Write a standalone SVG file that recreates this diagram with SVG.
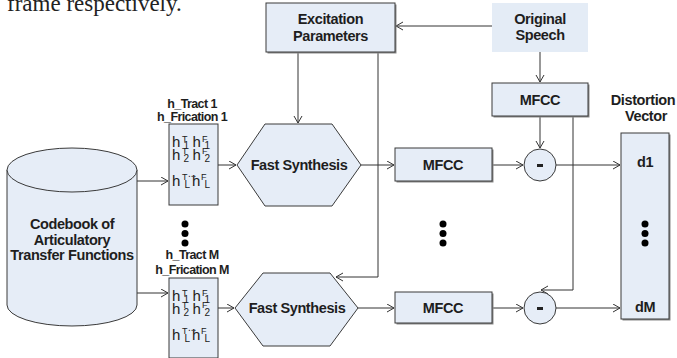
<svg xmlns="http://www.w3.org/2000/svg" width="677" height="358" viewBox="0 0 677 358">
<style>
.box{fill:#e6edf7;stroke:#3a3a3a;stroke-width:1}
.shd{fill:#8a8a8a}
.lbl{font-family:"Liberation Sans",Arial,sans-serif;font-weight:bold;font-size:14.5px;letter-spacing:-0.4px;fill:#1e1e1e;text-anchor:middle}
.sm{font-family:"Liberation Sans",Arial,sans-serif;font-weight:bold;font-size:12.5px;letter-spacing:-0.6px;fill:#1e1e1e;text-anchor:middle}
.h{font-family:"Liberation Sans",Arial,sans-serif;font-size:15px;fill:#222}
.sup{font-size:9px}
.sub{font-size:10px}
.ln{fill:none;stroke:#333;stroke-width:1;marker-end:url(#ah)}
.dot{fill:#000}
.cap{font-family:"Liberation Serif","Times New Roman",serif;font-size:23px;fill:#222}
</style>
<defs>
<marker id="ah" markerUnits="userSpaceOnUse" markerWidth="10" markerHeight="10" refX="8" refY="4.5" orient="auto">
<path d="M1,0.5 L8,4.5 L1,8.5" fill="none" stroke="#333" stroke-width="1"/>
</marker>
</defs>

<text class="cap" x="7" y="11">frame respectively.</text>

<g id="connectors">
<path class="ln" d="M492,26 H396"/>
<path class="ln" d="M298,52 V123"/>
<path class="ln" d="M378,52 V277 H336"/>
<path class="ln" d="M540,52 V82"/>
<path class="ln" d="M540,116 V148"/>
<path class="ln" d="M573,116 V290 H541"/>
<path class="ln" d="M137,181 H168"/>
<path class="ln" d="M137,293 H168"/>
<path class="ln" d="M218,165 H236"/>
<path class="ln" d="M218,308 H234"/>
<path class="ln" d="M361,165 H394"/>
<path class="ln" d="M358,308 H394"/>
<path class="ln" d="M492,165 H523"/>
<path class="ln" d="M492,308 H523"/>
<path class="ln" d="M556,165 H620"/>
<path class="ln" d="M556,308 H620"/>
</g>

<g id="excitation">
<rect class="shd" x="267.5" y="4.5" width="129" height="49"/>
<rect class="box" x="266" y="3" width="129" height="49"/>
<text class="lbl" x="330.5" y="24">Excitation</text>
<text class="lbl" x="330.5" y="41">Parameters</text>
</g>

<g id="original-speech">
<rect x="492" y="3" width="96" height="49" fill="#e4ecf6"/>
<text class="lbl" x="540" y="24">Original</text>
<text class="lbl" x="540" y="40">Speech</text>
</g>

<g id="mfcc-ref">
<rect class="shd" x="493.5" y="84.5" width="96" height="33"/>
<rect class="box" x="492" y="83" width="96" height="33"/>
<text class="lbl" x="540" y="104.5">MFCC</text>
</g>

<g id="distortion-label">
<text class="lbl" x="643" y="105">Distortion</text>
<text class="lbl" x="646" y="121">Vector</text>
</g>

<g id="codebook">
<path d="M7,170 V305 A65,21 0 0 0 137,305 V170 Z" fill="#e6edf7" stroke="#3a3a3a" stroke-width="1"/>
<ellipse cx="72" cy="170" rx="65" ry="22" fill="#e6edf7" stroke="#3a3a3a" stroke-width="1"/>
<text class="lbl" x="72" y="229">Codebook of</text>
<text class="lbl" x="72" y="244.5">Articulatory</text>
<text class="lbl" x="72" y="260">Transfer Functions</text>
</g>

<g id="hbox-1">
<text class="sm" x="192" y="108">h_Tract 1</text>
<text class="sm" x="192" y="121">h_Frication 1</text>
<rect class="box" x="169" y="124" width="49" height="81"/>
<text class="h" x="172" y="147">h<tspan class="sup" x="182" y="141.5">T</tspan><tspan class="sub" x="183.5" y="149">1</tspan><tspan x="192.5" y="147">h</tspan><tspan class="sup" x="202" y="141.5">F</tspan><tspan class="sub" x="204.5" y="149">1</tspan></text>
<text class="h" x="172" y="159.5">h<tspan class="sup" x="182" y="154">T</tspan><tspan class="sub" x="183.5" y="161.5">2</tspan><tspan x="192.5" y="159.5">h</tspan><tspan class="sup" x="202" y="154">F</tspan><tspan class="sub" x="204.5" y="161.5">2</tspan></text>
<text class="h" x="172" y="186"><tspan class="sub" x="188" y="177">...</tspan><tspan x="172" y="186">h</tspan><tspan class="sup" x="182" y="180">T</tspan><tspan class="sub" x="184.5" y="187.5">L</tspan><tspan x="192" y="186">h</tspan><tspan class="sup" x="201" y="180">F</tspan><tspan class="sub" x="204.5" y="187.5">L</tspan></text>
</g>

<g id="dots-left">
<circle class="dot" cx="185" cy="224" r="3.5"/>
<circle class="dot" cx="185" cy="233.5" r="3.5"/>
<circle class="dot" cx="185" cy="243" r="3.5"/>
</g>

<g id="hbox-m">
<text class="sm" x="192" y="259">h_Tract M</text>
<text class="sm" x="192" y="274">h_Frication M</text>
<rect class="box" x="169" y="278" width="49" height="80"/>
<text class="h" x="172" y="301">h<tspan class="sup" x="182" y="295.5">T</tspan><tspan class="sub" x="183.5" y="303">1</tspan><tspan x="192.5" y="301">h</tspan><tspan class="sup" x="202" y="295.5">F</tspan><tspan class="sub" x="204.5" y="303">1</tspan></text>
<text class="h" x="172" y="313.5">h<tspan class="sup" x="182" y="308">T</tspan><tspan class="sub" x="183.5" y="315.5">2</tspan><tspan x="192.5" y="313.5">h</tspan><tspan class="sup" x="202" y="308">F</tspan><tspan class="sub" x="204.5" y="315.5">2</tspan></text>
<text class="h" x="172" y="340"><tspan class="sub" x="188" y="331">...</tspan><tspan x="172" y="340">h</tspan><tspan class="sup" x="182" y="334">T</tspan><tspan class="sub" x="184.5" y="341.5">L</tspan><tspan x="192" y="340">h</tspan><tspan class="sup" x="201" y="334">F</tspan><tspan class="sub" x="204.5" y="341.5">L</tspan></text>
</g>

<g id="synth-1">
<polygon class="box" points="237,165 265,124 332,124 361,165 332,206 265,206"/>
<text class="lbl" x="299" y="170">Fast Synthesis</text>
</g>

<g id="synth-m">
<polygon class="box" points="235,308 263,273 330,273 358,308 330,346 263,346"/>
<text class="lbl" x="297" y="313">Fast Synthesis</text>
</g>

<g id="mfcc-1">
<rect class="shd" x="396.5" y="149.5" width="97" height="33"/>
<rect class="box" x="395" y="148" width="97" height="33"/>
<text class="lbl" x="443" y="169.5">MFCC</text>
</g>

<g id="dots-mid">
<circle class="dot" cx="443" cy="224" r="3.5"/>
<circle class="dot" cx="443" cy="233.5" r="3.5"/>
<circle class="dot" cx="443" cy="243" r="3.5"/>
</g>

<g id="mfcc-m">
<rect class="shd" x="396.5" y="293.5" width="97" height="31"/>
<rect class="box" x="395" y="292" width="97" height="31"/>
<text class="lbl" x="443" y="312.5">MFCC</text>
</g>

<g id="minus-1">
<circle class="box" cx="540" cy="165" r="16"/>
<rect x="537" y="164" width="6" height="3" fill="#222"/>
</g>

<g id="minus-m">
<circle class="box" cx="540" cy="308" r="16"/>
<rect x="537" y="307" width="6" height="3" fill="#222"/>
</g>

<g id="distortion-vector">
<rect class="shd" x="622.5" y="134.5" width="48" height="186"/>
<rect class="box" x="621" y="133" width="48" height="186"/>
<text class="lbl" x="645" y="167">d1</text>
<circle class="dot" cx="645" cy="224" r="3.5"/>
<circle class="dot" cx="645" cy="233.5" r="3.5"/>
<circle class="dot" cx="645" cy="243" r="3.5"/>
<text class="lbl" x="645" y="312">dM</text>
</g>
</svg>
